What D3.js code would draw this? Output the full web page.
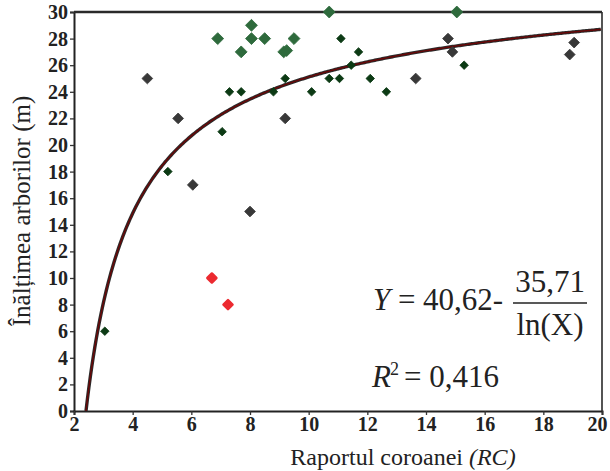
<!DOCTYPE html>
<html>
<head>
<meta charset="utf-8">
<script src="https://cdn.jsdelivr.net/npm/d3@7"></script>
<style>
  body { margin: 0; background: #fff; }
  svg { display: block; }
  svg text { font-family: "Liberation Serif", "Times New Roman", Times, serif !important; fill: #222; }
</style>
</head>
<body>
<div id="chart"></div>
<script>
// puncte (RC, inaltime)
const darkGray = [
  [4.5, 25], [5.55, 22], [9.2, 22], [6.05, 17], [8.0, 15],
  [13.65, 25], [14.75, 28], [14.9, 27], [19.05, 27.7], [18.9, 26.8]
];
const midGreen = [
  [6.9, 28], [8.05, 29], [8.05, 28], [8.5, 28], [9.5, 28],
  [7.7, 27], [9.15, 27], [9.25, 27.1], [10.7, 30], [15.05, 30]
];
const darkGreen = [
  [11.1, 28], [11.7, 27], [11.45, 26], [7.3, 24], [7.7, 24], [8.8, 24],
  [9.2, 25], [10.1, 24], [10.7, 25], [11.05, 25], [12.1, 25], [12.65, 24],
  [15.3, 26], [7.05, 21], [5.2, 18], [3.05, 6]
];
const redPts = [[6.7, 10], [7.25, 8]];

const xTicks = [2, 4, 6, 8, 10, 12, 14, 16, 18, 20];
const yTicks = d3.range(0, 31, 2);

// modelul din grafic: Y = a - b / ln(X)
const fitA = 40.62, fitB = 35.71;

const width = 610, height = 471;
const x = d3.scaleLinear().domain([2, 20]).range([74, 602]);
const y = d3.scaleLinear().domain([0, 30]).range([411, 12]);

const svg = d3.select("#chart").append("svg")
  .attr("width", width).attr("height", height);

// axa Y
const yAxis = svg.append("g")
  .attr("transform", `translate(${x(2)},0)`)
  .call(d3.axisLeft(y).tickValues(yTicks).tickSize(4).tickPadding(2));
// axa X
const xAxis = svg.append("g")
  .attr("transform", `translate(0,${y(0)})`)
  .call(d3.axisBottom(x).tickValues(xTicks).tickSize(4).tickPadding(2));

[yAxis, xAxis].forEach(a => {
  a.attr("font-family", null).attr("font-size", null);
  a.select(".domain").attr("stroke", "#222").attr("stroke-width", 2);
  a.selectAll(".tick line").attr("stroke", "#333").attr("stroke-width", 1.3);
  a.selectAll(".tick text")
    .style("font-size", "20px")
    .style("font-weight", "bold")
    .attr("fill", "#222");
});
// ultima eticheta (20) trasa putin spre stanga ca sa intre in pagina
xAxis.selectAll(".tick text").filter(d => d === 20).attr("dx", -5);

// cadru sus + dreapta
svg.append("line")
  .attr("x1", x(2)).attr("x2", x(20)).attr("y1", y(30)).attr("y2", y(30))
  .attr("stroke", "#2a2a2a").attr("stroke-width", 2.5);
svg.append("line")
  .attr("x1", x(20)).attr("x2", x(20)).attr("y1", y(30)).attr("y2", y(0))
  .attr("stroke", "#2a2a2a").attr("stroke-width", 1.6);

// curba de regresie
const x0 = Math.exp(fitB / fitA);
const xs = d3.range(x0, 20.0001, 0.05);
const curve = xs.map(v => [v, fitA - fitB / Math.log(v)]);
const line = d3.line().x(d => x(d[0])).y(d => y(Math.max(0, d[1])));
svg.append("path").datum(curve).attr("d", line)
  .attr("fill", "none").attr("stroke", "#2b2b2b").attr("stroke-width", 3.4);
svg.append("path").datum(curve).attr("d", line)
  .attr("fill", "none").attr("stroke", "#6a0606").attr("stroke-width", 1.4);

// markere romb
function diamonds(data, color, side, round) {
  const sym = d3.symbol().type(d3.symbolSquare).size(side * side);
  svg.append("g").selectAll("path")
    .data(data).join("path")
    .attr("d", sym)
    .attr("transform", d => `translate(${x(d[0])},${y(d[1])}) rotate(45)`)
    .attr("fill", color)
    .attr("stroke", color)
    .attr("stroke-width", round ? 2.5 : 0.8)
    .attr("stroke-linejoin", "round");
}
diamonds(darkGray, "#383838", 7.6, false);
diamonds(midGreen, "#2e6a3c", 8.4, false);
diamonds(darkGreen, "#0c3a14", 6.0, false);
diamonds(redPts, "#ec2a30", 6.4, true);

// titluri axe
svg.append("text")
  .attr("x", 403).attr("y", 465)
  .attr("text-anchor", "middle")
  .style("font-size", "24px")
  .html('Raportul coroanei <tspan font-style="italic">(RC)</tspan>');

svg.append("text")
  .attr("transform", "translate(30,211) rotate(-90)")
  .attr("text-anchor", "middle")
  .style("font-size", "25px")
  .text("Înălțimea arborilor (m)");

// ecuatia
const eq = svg.append("g").style("font-size", "31px");
eq.append("text").attr("x", 373).attr("y", 310).attr("font-style", "italic").text("Y");
eq.append("text").attr("x", 398).attr("y", 310).text("=");
eq.append("text").attr("x", 423).attr("y", 310).text("40,62-");
eq.append("text").attr("x", 550).attr("y", 292).attr("text-anchor", "middle").text("35,71");
eq.append("text").attr("x", 550).attr("y", 335).attr("text-anchor", "middle").text("ln(X)");
svg.append("line")
  .attr("x1", 513).attr("x2", 587).attr("y1", 303).attr("y2", 303)
  .attr("stroke", "#222").attr("stroke-width", 1.5);
eq.append("text").attr("x", 372).attr("y", 387).attr("font-style", "italic").text("R");
eq.append("text").attr("x", 390).attr("y", 375).style("font-size", "18px").text("2");
eq.append("text").attr("x", 404).attr("y", 387).text("= 0,416");
</script>
</body>
</html>
